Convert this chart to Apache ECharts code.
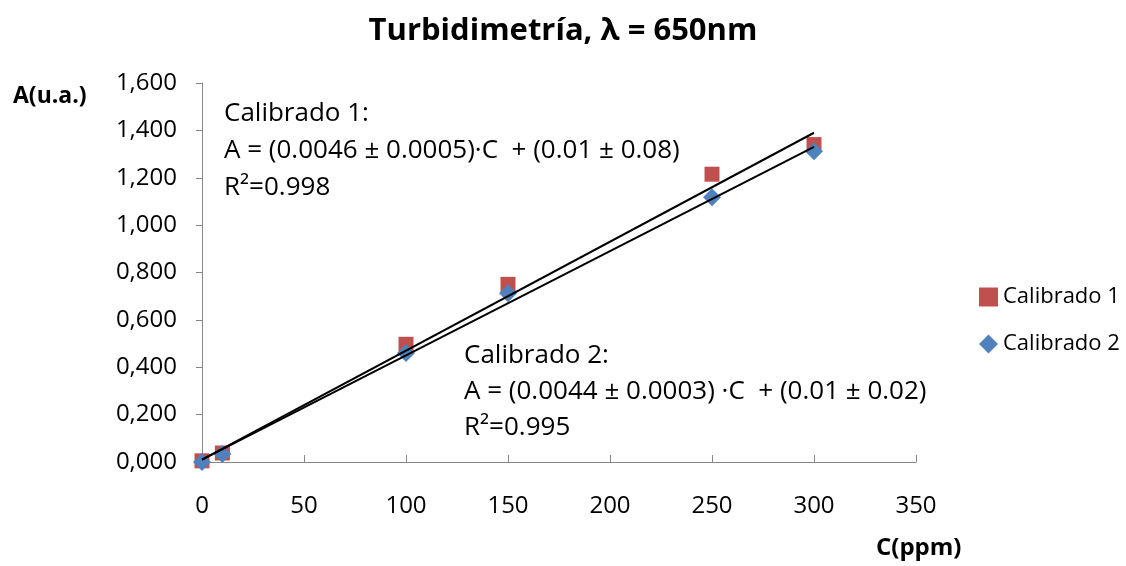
<!DOCTYPE html>
<html>
<head>
<meta charset="utf-8">
<script src="https://cdn.jsdelivr.net/npm/echarts@6/dist/echarts.min.js"></script>
<style>
  html, body { margin: 0; padding: 0; background: #fff; }
  #chart { width: 1126px; height: 566px; }
</style>
</head>
<body>
<div id="chart"></div>
<script>
// Concentration (ppm) of each standard
const concentrations = [0, 10, 100, 150, 250, 300];
// Measured absorbance, first calibration
const absorbance1 = [0.005, 0.038, 0.497, 0.750, 1.215, 1.340];
// Measured absorbance, second calibration
const absorbance2 = [0.000, 0.034, 0.460, 0.712, 1.118, 1.312];

// Least-squares fits as reported in the annotations
const fit1 = { slope: 0.0046, intercept: 0.01 };
const fit2 = { slope: 0.0044, intercept: 0.01 };
const fitRange = [0, 300];

const yTicks = { min: 0, max: 1.6, step: 0.2 };
const xTicks = { min: 0, max: 350, step: 50 };

const fontFamily = '"Open Sans", "Liberation Sans", sans-serif';

function pairs(xs, ys) { return xs.map((x, i) => [x, ys[i]]); }
function fitLine(f) { return fitRange.map(x => [x, f.intercept + f.slope * x]); }

const chart = echarts.init(document.getElementById('chart'), null, { renderer: 'canvas' });

const axisGray = '#868686';
const red = '#C0504D';
const blue = '#4F81BD';

chart.setOption({
  animation: false,
  backgroundColor: '#ffffff',
  title: {
    text: 'Turbidimetría, λ = 650nm',
    left: 'center',
    top: 11,
    textStyle: { fontFamily, fontSize: 31, fontWeight: 'bold', color: '#000' }
  },
  grid: { left: 202, right: 210, top: 83, bottom: 104 },
  legend: {
    orient: 'vertical',
    left: 974,
    top: 281,
    itemGap: 25,
    itemWidth: 19,
    itemHeight: 19,
    textStyle: { fontFamily, fontSize: 22, color: '#000' },
    data: [
      { name: 'Calibrado 1', icon: 'rect', itemStyle: { color: red } },
      { name: 'Calibrado 2', icon: 'diamond', itemStyle: { color: blue } }
    ]
  },
  xAxis: {
    type: 'value',
    min: xTicks.min, max: xTicks.max, interval: xTicks.step,
    axisLine: { show: true, lineStyle: { color: axisGray, width: 1 } },
    axisTick: { show: true, inside: true, length: 7, lineStyle: { color: axisGray } },
    splitLine: { show: false },
    axisLabel: { fontFamily, fontSize: 24, color: '#000', margin: 32 }
  },
  yAxis: {
    type: 'value',
    min: yTicks.min, max: yTicks.max, interval: yTicks.step,
    axisLine: { show: true, lineStyle: { color: axisGray, width: 1 } },
    axisTick: { show: true, inside: false, length: 6, lineStyle: { color: axisGray } },
    splitLine: { show: false },
    axisLabel: {
      fontFamily, fontSize: 24, color: '#000', margin: 25,
      formatter: v => v.toFixed(3).replace('.', ',')
    }
  },
  graphic: [
    { type: 'text', left: 13, top: 85, style: { text: 'A(u.a.)', font: 'bold 23px ' + fontFamily, fill: '#000' } },
    { type: 'text', left: 876, top: 536, style: { text: 'C(ppm)', font: 'bold 24px ' + fontFamily, fill: '#000' } },
    { type: 'text', left: 224, top: 95, style: {
        text: 'Calibrado 1:\nA = (0.0046 ± 0.0005)·C  + (0.01 ± 0.08)\nR²=0.998',
        font: '26px ' + fontFamily, lineHeight: 37, fill: '#000' } },
    { type: 'text', left: 464, top: 338, style: {
        text: 'Calibrado 2:\nA = (0.0044 ± 0.0003) ·C  + (0.01 ± 0.02)\nR²=0.995',
        font: '26px ' + fontFamily, lineHeight: 36, fill: '#000' } }
  ],
  series: [
    {
      name: 'Calibrado 1', type: 'scatter', symbol: 'rect', symbolSize: 15,
      itemStyle: { color: red, opacity: 1 }, data: pairs(concentrations, absorbance1), z: 2
    },
    {
      name: 'Calibrado 2', type: 'scatter', symbol: 'diamond', symbolSize: 18,
      itemStyle: { color: blue, opacity: 1 }, data: pairs(concentrations, absorbance2), z: 3
    },
    {
      name: 'fit1', type: 'line', data: fitLine(fit1), symbol: 'none', silent: true,
      lineStyle: { color: '#000', width: 2 }, z: 4
    },
    {
      name: 'fit2', type: 'line', data: fitLine(fit2), symbol: 'none', silent: true,
      lineStyle: { color: '#000', width: 2 }, z: 4
    }
  ]
});
</script>
</body>
</html>
